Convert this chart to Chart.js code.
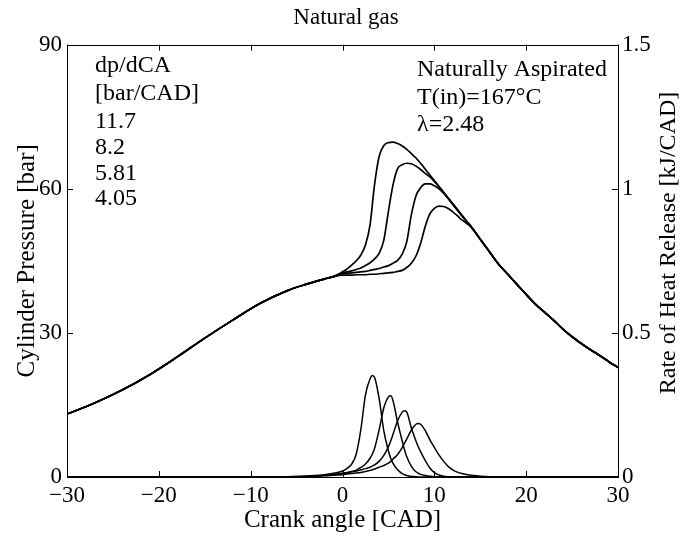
<!DOCTYPE html>
<html>
<head>
<meta charset="utf-8">
<script src="https://cdn.jsdelivr.net/npm/chart.js@4.4.1/dist/chart.umd.min.js"></script>
<style>
  html, body { margin: 0; padding: 0; background: #fff; }
  #wrap { width: 692px; height: 535px; position: relative; }
</style>
</head>
<body>
<div id="wrap"><canvas id="c"></canvas></div>
<script>
// ---------- DATA ----------
const rateLabels = ['11.7', '8.2', '5.81', '4.05'];   // dp/dCA [bar/CAD]

// Cylinder pressure [bar]
const crankCompression = [-30, -27, -24, -21, -18, -15, -12, -9, -6, -4, -2, -1];
const pressureCompression = [13.1, 15.4, 18.1, 21.3, 25.0, 28.9, 32.6, 36.1, 38.8, 40.1, 41.2, 41.7];

const crankCombustion = [0, 0.5, 1, 1.5, 2, 2.5, 3, 3.5, 4, 4.5, 5, 5.5, 6, 6.5, 7, 7.5, 8, 8.5, 9, 9.5, 10, 10.5, 11, 11.5, 12, 12.5, 13, 13.5, 14];
const pressure117 = [42.7, 43.3, 44.1, 45.0, 46.2, 48.3, 52.5, 61.0, 66.8, 69.0, 69.6, 69.7, 69.4, 68.9, 68.2, 67.3, 66.4, 65.3, 64.1, 62.9, 61.7, 60.5, 59.3, 58.1, 56.9, 55.7, 54.5, 53.3, 52.2];
const pressure82  = [42.5, 42.7, 42.9, 43.2, 43.5, 44.0, 44.6, 45.4, 46.6, 49.3, 55.3, 60.8, 64.2, 65.0, 65.3, 65.2, 64.7, 64.0, 63.2, 62.5, 61.5, 60.4, 59.2, 58.0, 56.8, 55.6, 54.4, 53.2, 52.1];
const pressure581 = [42.3, 42.4, 42.5, 42.6, 42.7, 42.8, 43.0, 43.2, 43.4, 43.7, 44.0, 44.5, 45.1, 46.4, 49.0, 54.6, 58.5, 60.2, 61.0, 61.0, 60.6, 60.0, 59.1, 58.0, 56.8, 55.6, 54.4, 53.2, 52.1];
const pressure405 = [42.0, 42.0, 42.0, 42.1, 42.1, 42.1, 42.2, 42.2, 42.3, 42.4, 42.5, 42.6, 42.8, 43.0, 43.6, 44.5, 46.0, 48.6, 52.1, 54.7, 55.9, 56.4, 56.3, 55.9, 55.2, 54.4, 53.5, 52.8, 52.0];

const crankExpansion = [15, 16, 17, 18, 19, 20, 21, 22, 23, 24, 25, 26, 27, 28, 29, 30];
const pressureExpansion = [49.5, 46.9, 44.3, 42.2, 40.1, 38.0, 36.0, 34.3, 32.6, 30.8, 29.2, 27.8, 26.5, 25.3, 24.0, 22.8];

// Rate of heat release [kJ/CAD]
const crankHeat = [-30, -10, -6, -4, -3, -2, -1, 0, 0.5, 1, 1.5, 2, 2.5, 3, 3.25, 3.5, 4, 4.5, 5, 5.25, 5.5, 6, 6.5, 6.75, 7, 7.5, 8, 8.25, 8.5, 9, 9.5, 10, 10.5, 11, 11.5, 12, 12.5, 13, 14, 15, 16, 17, 18, 20, 30];
const heat117 = [0, 0, 0.001, 0.003, 0.005, 0.008, 0.013, 0.021, 0.03, 0.045, 0.08, 0.165, 0.285, 0.34, 0.352, 0.345, 0.27, 0.16, 0.09, 0.065, 0.047, 0.025, 0.012, 0.008, 0.005, 0.002, 0.001, 0, 0, 0, 0, 0, 0, 0, 0, 0, 0, 0, 0, 0, 0, 0, 0, 0, 0];
const heat82  = [0, 0, 0.001, 0.002, 0.004, 0.006, 0.009, 0.013, 0.016, 0.019, 0.024, 0.033, 0.045, 0.065, 0.08, 0.1, 0.165, 0.24, 0.278, 0.282, 0.265, 0.19, 0.125, 0.095, 0.07, 0.037, 0.018, 0.013, 0.009, 0.005, 0.003, 0.001, 0, 0, 0, 0, 0, 0, 0, 0, 0, 0, 0, 0, 0];
const heat581 = [0, 0, 0.001, 0.002, 0.003, 0.005, 0.008, 0.012, 0.015, 0.018, 0.021, 0.025, 0.029, 0.034, 0.038, 0.042, 0.055, 0.075, 0.105, 0.125, 0.148, 0.195, 0.225, 0.23, 0.225, 0.17, 0.125, 0.105, 0.088, 0.058, 0.032, 0.015, 0.007, 0.003, 0.001, 0, 0, 0, 0, 0, 0, 0, 0, 0, 0];
const heat405 = [0, 0, 0.001, 0.002, 0.003, 0.004, 0.006, 0.008, 0.01, 0.012, 0.014, 0.016, 0.019, 0.023, 0.025, 0.028, 0.034, 0.04, 0.048, 0.054, 0.062, 0.078, 0.102, 0.117, 0.132, 0.163, 0.183, 0.186, 0.183, 0.162, 0.13, 0.103, 0.077, 0.055, 0.037, 0.025, 0.017, 0.012, 0.006, 0.003, 0.001, 0, 0, 0, 0];

// Axis ticks
const xTicks = [-30, -20, -10, 0, 10, 20, 30];
const pressureTicks = [0, 30, 60, 90];
const heatTicks = [0, 0.5, 1, 1.5];

// ---------- BUILD ----------
function pts(xs, ys) { return xs.map((x, i) => ({ x: x, y: ys[i] })); }
function pressureSeries(mid) {
  return pts(crankCompression, pressureCompression)
    .concat(pts(crankCombustion, mid))
    .concat(pts(crankExpansion, pressureExpansion));
}
const pressures = [pressure117, pressure82, pressure581, pressure405];
const heats = [heat117, heat82, heat581, heat405];

const lineStyle = {
  borderColor: '#000', borderWidth: 1.5, pointRadius: 0, fill: false,
  cubicInterpolationMode: 'monotone'
};
const datasets = [];
pressures.forEach((p, i) => datasets.push(Object.assign({
  label: 'p ' + rateLabels[i], yAxisID: 'y', data: pressureSeries(p)
}, lineStyle, { borderWidth: 1.7 })));
heats.forEach((h, i) => datasets.push(Object.assign({
  label: 'RoHR ' + rateLabels[i], yAxisID: 'y2', data: pts(crankHeat, h)
}, lineStyle)));

const FONT = "'Liberation Serif', 'Times New Roman', serif";
Chart.defaults.font.family = FONT;
Chart.defaults.color = '#000';

const frame = {
  id: 'frame',
  afterDraw(chart) {
    const ctx = chart.ctx, a = chart.chartArea;
    const sx = chart.scales.x, sy = chart.scales.y, s2 = chart.scales.y2;
    ctx.save();
    ctx.strokeStyle = '#000';
    ctx.lineWidth = 1;
    ctx.strokeRect(Math.round(a.left) + 0.5, Math.round(a.top) + 0.5,
                   Math.round(a.right - a.left), Math.round(a.bottom - a.top));
    const L = 6;
    ctx.beginPath();
    xTicks.forEach(v => {
      const px = Math.round(sx.getPixelForValue(v)) + 0.5;
      ctx.moveTo(px, a.bottom); ctx.lineTo(px, a.bottom - L);
      ctx.moveTo(px, a.top); ctx.lineTo(px, a.top + L);
    });
    pressureTicks.forEach(v => {
      const py = Math.round(sy.getPixelForValue(v)) + 0.5;
      ctx.moveTo(a.left, py); ctx.lineTo(a.left + L, py);
    });
    heatTicks.forEach(v => {
      const py = Math.round(s2.getPixelForValue(v)) + 0.5;
      ctx.moveTo(a.right, py); ctx.lineTo(a.right - L, py);
    });
    ctx.stroke();

    // annotations
    ctx.fillStyle = '#000';
    ctx.font = '24px ' + FONT;
    ctx.textAlign = 'left';
    ctx.textBaseline = 'alphabetic';
    const leftLines = ['dp/dCA', '[bar/CAD]'].concat(rateLabels);
    const leftBase = [72, 100, 128, 154, 180, 205];
    leftLines.forEach((t, i) => ctx.fillText(t, 95, leftBase[i]));
    const rightLines = ['Naturally Aspirated', 'T(in)=167\u00B0C', '\u03BB=2.48'];
    const rightBase = [76, 104, 131];
    rightLines.forEach((t, i) => ctx.fillText(t, 417, rightBase[i]));

    // right axis title (reads bottom-to-top)
    ctx.save();
    ctx.translate(669, 243);
    ctx.rotate(-Math.PI / 2);
    ctx.textAlign = 'center';
    ctx.textBaseline = 'middle';
    ctx.font = '24px ' + FONT;
    ctx.fillText('Rate of Heat Release [kJ/CAD]', 0, 0);
    ctx.restore();
    ctx.restore();
  }
};

new Chart(document.getElementById('c'), {
  type: 'line',
  data: { datasets: datasets },
  options: {
    responsive: true,
    maintainAspectRatio: false,
    animation: false,
    layout: { padding: 0 },
    plugins: {
      legend: { display: false },
      tooltip: { enabled: false },
      title: {
        display: true, text: 'Natural gas', color: '#000',
        font: { size: 23, weight: 'normal', family: FONT },
        padding: { top: 4, bottom: 13 }
      }
    },
    scales: {
      x: {
        type: 'linear', position: 'bottom', min: -30, max: 30,
        grid: { display: false, drawTicks: false },
        border: { display: false },
        ticks: {
          stepSize: 10, padding: 5, maxRotation: 0, autoSkip: false,
          color: '#000', font: { size: 23 },
          callback: v => (v < 0 ? '\u2212' + Math.abs(v) : String(v))
        },
        title: {
          display: true, text: 'Crank angle [CAD]', color: '#000',
          font: { size: 25 }, padding: { top: 0, bottom: 0 }
        },
        afterFit: s => { s.height = 58; }
      },
      y: {
        type: 'linear', position: 'left', min: 0, max: 90,
        grid: { display: false, drawTicks: false },
        border: { display: false },
        ticks: { stepSize: 30, padding: 5, color: '#000', font: { size: 23 } },
        title: {
          display: true, text: 'Cylinder Pressure [bar]', color: '#000',
          font: { size: 25 }, padding: { top: 12, bottom: 0 }
        },
        afterFit: s => { s.width = 67; }
      },
      y2: {
        type: 'linear', position: 'right', min: 0, max: 1.5,
        grid: { display: false, drawTicks: false },
        border: { display: false },
        ticks: {
          stepSize: 0.5, padding: 4, color: '#000', font: { size: 23 },
          callback: v => String(v)
        },
        afterFit: s => { s.width = 74; }
      }
    }
  },
  plugins: [frame]
});
</script>
</body>
</html>
